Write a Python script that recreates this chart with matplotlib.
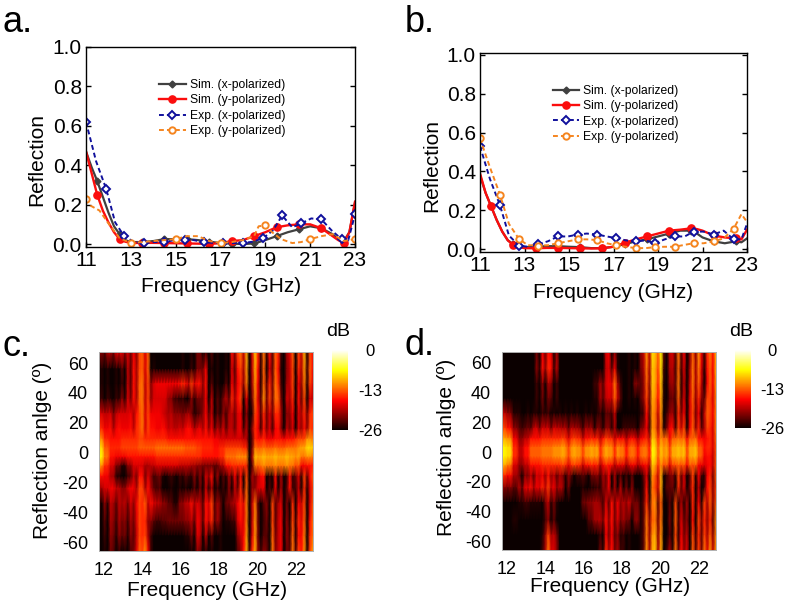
import numpy as np
import matplotlib
matplotlib.use("Agg")
import matplotlib.pyplot as plt

plt.rcParams['font.family'] = ['Liberation Sans', 'DejaVu Sans']
plt.rcParams['axes.unicode_minus'] = False

W, H = 787, 607

# panel a curves
a_sim_f = [11, 11.25, 11.5, 11.75, 12, 12.25, 12.5, 12.75, 13, 13.5, 14, 14.5, 15, 15.5, 16, 16.5, 17, 17.5, 18, 18.5, 19, 19.5, 20, 20.5, 21, 21.5, 22, 22.25, 22.5, 22.75, 23]
a_simx = [.47, .39, .32, .24, .16, .09, .05, .02, .01, .01, .015, .025, .025, .025, .02, .012, .005, .002, 0, .003, .02, .04, .06, .075, .09, .08, .05, .025, .015, .06, .21]
a_simy = [.47, .36, .25, .17, .11, .06, .025, .012, .005, .006, .006, .005, .004, .003, .002, 0, .005, .015, .02, .04, .06, .085, .095, .1, .1, .08, .04, .02, .006, .06, .215]
a_expx_f = [11, 11.45, 11.9, 12.3, 12.7, 13.15, 13.6, 14.05, 14.5, 14.95, 15.4, 15.8, 16.25, 16.7, 17.1, 17.55, 18, 18.45, 18.9, 19.35, 19.75, 20.2, 20.6, 21.05, 21.5, 21.95, 22.4, 22.7, 23]
a_expx = [.62, .42, .28, .11, .04, .01, .005, .01, .01, .02, .02, .02, .01, .005, .005, .005, .005, .012, .03, .07, .145, .085, .105, .13, .125, .07, .025, .02, .15]
a_expy_f = [11, 11.2, 11.6, 12, 12.5, 13, 13.5, 14, 14.5, 15, 15.5, 16, 16.5, 17, 17.5, 18, 18.5, 18.7, 19, 19.3, 19.7, 20.2, 20.6, 21, 21.5, 22, 22.5, 23]
a_expy = [.23, .195, .17, .105, .03, .005, .01, .015, .02, .025, .04, .04, .015, .005, .01, .02, .04, .09, .095, .06, .025, .005, .01, .025, .04, .05, .015, .025]
a_expy_marks = [11, 13, 15, 17, 19, 21, 23]

# panel b curves
b_sim_f = [11, 11.25, 11.5, 11.75, 12, 12.25, 12.5, 12.75, 13, 13.5, 14, 14.5, 15, 15.5, 16, 16.5, 17, 17.5, 18, 18.5, 19, 19.5, 20, 20.5, 20.75, 21, 21.5, 22, 22.5, 22.75, 23]
b_simx = [.38, .29, .22, .15, .09, .045, .025, .012, .01, .012, .015, .015, .012, .01, .005, .005, .012, .025, .04, .05, .065, .08, .095, .095, .08, .06, .04, .03, .04, .035, .055]
b_simy = [.39, .29, .22, .15, .09, .045, .02, .01, .005, .004, .006, .006, .005, .004, .003, .004, .012, .032, .05, .065, .08, .095, .1, .107, .103, .095, .07, .06, .055, .05, .1]
b_exp_f = [11, 11.45, 11.9, 12.3, 12.75, 13.15, 13.6, 14.05, 14.5, 14.95, 15.4, 15.8, 16.25, 16.7, 17.1, 17.55, 18, 18.45, 18.85, 19.3, 19.75, 20.2, 20.6, 21.05, 21.5, 21.95, 22.4, 22.75, 23]
b_expx = [.53, .36, .225, .07, .018, .012, .025, .04, .065, .065, .075, .08, .075, .065, .057, .045, .04, .045, .03, .05, .065, .065, .09, .09, .075, .095, .05, .05, .13]
b_expy = [.57, .42, .28, .13, .052, .02, .018, .02, .03, .04, .05, .05, .047, .03, .02, .012, .005, .005, .01, .012, .012, .022, .03, .03, .04, .055, .105, .18, .14]

sim_marks = [11.5, 12.5, 13.5, 14.5, 15.5, 16.5, 17.5, 18.5, 19.5, 20.5, 21.5, 22.5]
a_expx_marks = [11, 11.9, 12.7, 13.6, 14.5, 15.4, 16.25, 17.1, 18, 18.9, 19.75, 20.6, 21.5, 22.4, 23]
b_exp_marks = [11, 11.9, 12.75, 13.6, 14.5, 15.4, 16.25, 17.1, 18, 18.85, 19.75, 20.6, 21.5, 22.4]

# heat maps: dB at each angle (rows) and frequency (columns)
map_ang = [67.4, 56, 46, 36, 26, 16, 9, 3, -3, -9, -16, -24, -34, -46, -56, -66]
map_c = [
    [-22, -20, -19, -18, -18, -19, -18, -15, -15, -26, -26, -26, -26, -26, -26, -26, -26, -22, -26, -24, -26, -26, -26, -18, -15, -13, -20, -12, -15, -18, -14, -18, -22, -15, -17, -13, -16, -13],
    [-26, -26, -26, -26, -24, -20, -17, -15, -15, -25, -26, -26, -26, -26, -26, -26, -25, -22, -19, -26, -26, -26, -26, -20, -17, -14, -21, -13, -16, -20, -14, -19, -23, -16, -18, -14, -15, -14],
    [-26, -26, -26, -26, -25, -20, -17, -14, -16, -18, -17, -17, -17, -17, -16, -16, -15, -16, -18, -24, -26, -26, -24, -19, -18, -15, -22, -14, -16, -17, -13, -18, -22, -16, -20, -15, -16, -15],
    [-25, -25, -25, -25, -22, -19, -17, -14, -16, -18, -18, -18, -21, -24, -25, -26, -22, -22, -19, -20, -24, -22, -20, -17, -17, -20, -24, -15, -14, -16, -13, -16, -20, -17, -19, -17, -20, -16],
    [-18, -19, -19, -19, -18, -18, -17, -14, -15, -17, -17, -19, -20, -21, -22, -21, -22, -24, -18, -20, -24, -22, -21, -19, -19, -23, -26, -16, -17, -19, -16, -17, -22, -18, -20, -17, -16, -14],
    [-15, -17, -17, -17, -17, -17, -16, -14, -15, -16, -17, -17, -19, -19, -19, -17, -17, -18, -17, -18, -20, -19, -20, -19, -19, -21, -22, -17, -18, -19, -18, -18, -20, -19, -20, -18, -15, -15],
    [-11, -15, -16, -16, -15, -15, -15, -14, -15, -15, -15, -15, -16, -16, -16, -16, -16, -16, -16, -16, -17, -18, -18, -18, -18, -19, -20, -16, -16, -17, -17, -16, -17, -16, -15, -14, -11, -12],
    [-8, -13, -15, -15, -14, -14, -14, -13, -13, -13, -12, -12, -12, -12, -12, -13, -13, -14, -15, -15, -16, -15, -14, -14, -14, -15, -19, -13, -13, -13, -13, -13, -13, -12, -12, -10, -8, -9],
    [-7, -12, -16, -17, -17, -16, -16, -16, -16, -16, -15, -15, -15, -15, -15, -15, -15, -15, -16, -16, -16, -15, -12, -12, -11, -11, -17, -10, -10, -10, -10, -10, -10, -10, -11, -12, -11, -12],
    [-11, -15, -18, -22, -25, -21, -18, -18, -20, -19, -18, -18, -18, -18, -19, -19, -20, -21, -22, -22, -23, -20, -16, -15, -15, -15, -20, -13, -12, -12, -12, -12, -12, -12, -14, -17, -16, -15],
    [-16, -17, -20, -25, -26, -24, -19, -17, -19, -21, -23, -25, -25, -25, -25, -24, -22, -22, -19, -18, -22, -24, -22, -18, -18, -17, -22, -16, -19, -25, -18, -22, -25, -18, -20, -16, -17, -15],
    [-20, -18, -17, -19, -21, -18, -17, -15, -17, -20, -24, -26, -26, -26, -26, -26, -24, -23, -20, -22, -26, -25, -23, -20, -17, -16, -23, -15, -20, -24, -19, -22, -24, -18, -21, -17, -19, -16],
    [-24, -22, -20, -20, -20, -19, -18, -16, -16, -18, -19, -21, -23, -25, -21, -19, -17, -19, -17, -15, -20, -23, -22, -20, -18, -15, -22, -14, -20, -23, -17, -21, -24, -17, -20, -16, -20, -16],
    [-26, -24, -21, -21, -22, -21, -19, -16, -18, -23, -24, -23, -22, -22, -22, -21, -20, -18, -17, -16, -20, -24, -25, -24, -19, -15, -22, -13, -21, -24, -17, -20, -23, -16, -18, -15, -18, -15],
    [-26, -25, -22, -22, -23, -22, -20, -16, -17, -26, -26, -26, -26, -26, -26, -25, -23, -19, -20, -24, -26, -26, -26, -26, -22, -14, -21, -13, -20, -25, -16, -20, -23, -15, -19, -14, -17, -15],
    [-26, -26, -23, -25, -26, -24, -19, -15, -14, -26, -26, -26, -26, -26, -26, -26, -26, -22, -25, -26, -26, -26, -26, -26, -24, -13, -18, -12, -18, -24, -15, -20, -24, -14, -17, -13, -16, -13],
]
map_d = [
    [-26, -26, -26, -26, -26, -26, -23, -19, -18, -22, -26, -26, -26, -26, -26, -26, -26, -26, -19, -24, -26, -26, -26, -26, -22, -13, -11, -10, -17, -20, -14, -20, -22, -15, -14, -18, -13, -12],
    [-26, -26, -26, -26, -26, -26, -22, -18, -17, -21, -26, -26, -26, -26, -26, -26, -26, -26, -20, -20, -26, -26, -26, -26, -23, -14, -12, -11, -18, -21, -15, -21, -21, -14, -15, -19, -14, -12],
    [-26, -26, -26, -26, -26, -26, -25, -23, -22, -26, -26, -26, -26, -26, -26, -26, -24, -20, -19, -15, -21, -26, -26, -22, -24, -15, -12, -12, -19, -22, -14, -22, -20, -14, -16, -20, -14, -13],
    [-26, -26, -26, -26, -26, -26, -25, -24, -24, -26, -26, -26, -26, -26, -26, -26, -25, -20, -20, -16, -20, -26, -26, -26, -24, -16, -13, -13, -19, -24, -15, -21, -19, -15, -18, -17, -15, -14],
    [-19, -21, -25, -26, -26, -26, -26, -25, -25, -26, -26, -26, -26, -26, -26, -26, -26, -24, -24, -21, -24, -26, -26, -26, -26, -17, -14, -13, -18, -22, -16, -19, -19, -16, -19, -16, -14, -13],
    [-14, -16, -21, -24, -23, -20, -19, -19, -19, -19, -20, -20, -20, -21, -21, -21, -22, -22, -22, -22, -24, -24, -24, -24, -23, -18, -14, -14, -16, -18, -15, -16, -18, -15, -17, -17, -15, -13],
    [-10, -11, -17, -21, -19, -16, -16, -15, -15, -15, -15, -15, -15, -15, -16, -16, -16, -16, -15, -16, -17, -17, -17, -17, -17, -16, -12, -12, -13, -14, -13, -13, -14, -13, -13, -17, -15, -13],
    [-7, -8, -15, -19, -16, -13, -13, -12, -12, -11, -11, -11, -11, -11, -11, -11, -11, -12, -11, -12, -12, -13, -13, -13, -13, -13, -10, -10, -11, -11, -10, -10, -11, -10, -10, -16, -15, -14],
    [-7, -8, -15, -19, -16, -13, -13, -12, -12, -11, -11, -11, -11, -11, -11, -11, -11, -12, -11, -12, -12, -13, -13, -13, -13, -13, -10, -10, -11, -11, -10, -10, -11, -10, -10, -17, -16, -14],
    [-10, -12, -18, -21, -19, -16, -16, -15, -15, -15, -15, -15, -15, -15, -16, -16, -16, -17, -16, -17, -18, -18, -18, -17, -18, -17, -12, -12, -14, -15, -14, -14, -14, -14, -14, -18, -16, -14],
    [-15, -17, -20, -23, -22, -20, -19, -18, -18, -20, -21, -22, -23, -24, -24, -23, -22, -21, -19, -22, -24, -25, -24, -26, -25, -19, -14, -13, -18, -23, -16, -20, -24, -16, -18, -19, -16, -14],
    [-21, -22, -23, -20, -18, -17, -18, -16, -16, -18, -20, -23, -26, -26, -26, -26, -25, -22, -19, -22, -20, -23, -22, -24, -26, -17, -15, -13, -17, -24, -17, -20, -23, -17, -20, -18, -15, -15],
    [-26, -26, -26, -25, -24, -25, -25, -23, -22, -25, -26, -26, -26, -26, -22, -21, -20, -21, -20, -19, -18, -21, -19, -22, -26, -18, -14, -14, -20, -25, -16, -22, -23, -16, -19, -17, -15, -16],
    [-26, -26, -25, -26, -26, -26, -26, -25, -24, -26, -26, -26, -26, -26, -26, -23, -20, -19, -18, -19, -19, -22, -23, -21, -26, -15, -15, -13, -21, -24, -15, -20, -24, -17, -16, -18, -17, -14],
    [-26, -26, -26, -26, -26, -26, -26, -22, -17, -22, -26, -26, -26, -26, -26, -26, -26, -24, -19, -20, -22, -26, -26, -26, -26, -15, -13, -12, -20, -25, -16, -19, -22, -15, -17, -17, -15, -14],
    [-26, -26, -26, -26, -26, -26, -26, -21, -15, -21, -26, -26, -26, -26, -26, -26, -26, -22, -17, -19, -21, -26, -26, -26, -26, -14, -12, -11, -18, -22, -14, -18, -21, -14, -16, -15, -13, -13],
]

# fine vertical streaks added to the maps, -3 dark to +3 bright, 75 columns
streak_rows = [0, 0, 0, 0, 1, 1, 2, 2, 2, 2, 3, 3, 4, 4, 4, 4]
streak_c = [
    [0, 1, -1, 1, 0, -1, 1, 0, 1, -1, 1, -1, 1, -1, 1, 2, -1, 2, -1, 0, 0, 0, 0, 0, 0, 0, 0, 0, 0, 1, 0, -1, 1, -1, 0, 0, -1, 2, -2, 1, -1, 1, -1, 0, 1, -1, 2, -1, 1, 3, -2, 3, -3, 2, 3, -1, -3, 3, -2, 2, -3, 1, 3, -2, -3, 2, -1, 2, -3, 3, -2, 3, -3, 2, -1],
    [0, 0, 0, 0, 1, -1, 0, 1, 0, 0, 0, 1, -1, 1, 0, 2, -1, 1, 0, 0, 0, 0, 1, 0, 0, 1, 0, 0, 1, 0, 0, 1, 0, -1, 0, 1, -1, 1, -1, 1, -1, 1, -1, 1, -1, 1, 0, -1, 1, 2, -1, 2, -2, 1, 2, 0, -2, 2, -1, 1, -2, 1, 2, -1, -2, 1, -1, 1, -2, 2, -1, 2, -2, 1, 0],
    [0, 0, 0, 0, 0, 0, 0, 0, 0, 0, 0, 0, 0, 0, 0, 0, 0, 0, 0, 0, 0, 0, 0, 0, 0, 0, 0, 0, 0, 0, 0, 0, 0, 0, 0, 0, 0, 0, 0, 0, 0, 0, 0, 0, 0, 0, 0, 0, 0, 0, 0, 0, -3, -1, 1, 0, 0, 1, 0, 0, 0, 1, 0, 0, 0, 1, 0, 0, 0, 1, 0, 0, 0, 0, 0],
    [0, 0, 0, 0, 0, 0, 0, 0, 0, 0, 0, 1, 0, -1, 1, 1, -1, 1, 0, -1, 0, 1, 0, -1, 0, 1, 0, -1, 1, 0, 1, 0, -1, 1, -1, 1, -2, 1, -1, 2, -1, 2, -2, 1, -1, 2, -2, 1, -2, 2, -3, 3, -3, 2, -2, -1, 2, 3, -3, 1, -3, 2, -2, 2, -3, 1, 2, -2, -1, 2, -3, 2, -2, 1, 2],
    [0, -1, 1, -1, 1, 0, -1, 1, 0, 1, -1, 1, -1, 1, 2, 1, 3, -1, 2, 0, 0, 0, 0, 0, 0, 0, 0, 0, 0, 0, 0, 0, 1, -1, 1, 0, -2, 1, -1, 1, -1, 0, 1, -1, 0, 0, 0, 0, 1, 3, -1, 3, -2, 3, 2, -3, -2, -1, 2, -2, 3, -2, 1, 3, -3, 2, -3, 2, -2, 3, -1, 2, -3, 2, 3],
]
streak_d = [
    [0, 0, 0, 0, 0, 0, 0, 0, 0, 0, 0, 0, 1, -1, 2, -1, 2, 1, -1, 2, -1, 0, 0, 0, 0, 0, 0, 0, 0, 0, 0, 0, 0, 0, 0, -1, 1, 2, -1, 3, 1, -1, 0, 0, 1, -1, 1, 0, 1, 3, 2, -2, 3, 2, -1, 3, -2, -3, 1, 2, -3, 2, -1, 3, -3, 1, 2, -2, 3, -1, -2, 3, 1, -1, 3],
    [0, 0, 0, 0, 0, 0, 1, 0, 0, 1, -1, 1, 1, -1, 1, 0, 1, -1, 1, 0, 1, 0, 1, -1, 1, 0, 1, 0, -1, 1, 0, 1, -1, 1, 0, -1, 1, 1, -1, 2, -1, -1, 0, 0, 0, 0, 0, -1, 1, 2, 1, -2, 3, 2, -2, 2, -3, -2, 1, 2, -3, 1, -1, 2, -3, 1, 2, -2, 2, -2, -1, 3, 0, -1, 2],
    [0, 0, 0, 0, 0, 0, 0, 0, 0, 0, 0, 0, 0, 0, 0, 0, 0, 0, 0, 0, 0, 1, 0, -1, 0, 1, 0, 0, -1, 0, 0, 1, 0, 1, -1, 0, 1, 0, 1, -1, 1, 0, 1, -1, 0, 1, 0, -1, 0, 1, 1, -1, 3, 2, -1, 1, 0, 1, -1, 1, 0, 1, 0, 1, -1, 1, 0, 1, -1, -1, 0, 1, 0, -1, 1],
    [0, 0, 0, 1, 0, 0, 1, -1, 1, 0, 1, -1, 1, 0, 1, -1, 2, -1, 1, -1, 1, 0, -1, 1, 0, -1, 0, 0, 1, 0, -1, 1, 0, 1, -1, 1, -1, 2, -2, 2, -2, 1, -1, 1, -2, 1, -1, -1, -2, 2, 1, -3, 3, 1, -2, 3, -3, -2, 1, 2, -3, 2, -1, 2, -3, 1, 2, -3, 1, -2, -2, 2, 1, -2, 1],
    [0, 0, 0, 0, 0, 0, 0, 0, 0, 0, 0, 0, 0, 0, -1, 1, 3, -1, 3, 0, 0, 0, 0, 0, 0, 0, 0, 0, 0, 0, 0, 0, 0, 0, 0, -1, 2, -1, 3, -1, 1, -1, 2, 0, 1, -1, 0, 0, 1, 3, 3, -2, 2, 3, -3, 1, -3, -2, 2, -1, 2, -3, 2, -1, 3, -2, 1, -3, 2, -2, 3, -1, 2, -2, 3],
]
STREAK_UP_DB = 1.0
STREAK_DOWN_DB = 3.0

legend_names = ['Sim. (x-polarized)', 'Sim. (y-polarized)', 'Exp. (x-polarized)', 'Exp. (y-polarized)']
GRAY, RED, NAVY, ORANGE = '#404040', '#fb0d0d', '#10109c', '#f5851f'


def px_axes(fig, left, top, right, bottom):
    return fig.add_axes([left / W, 1 - bottom / H, (right - left) / W, (bottom - top) / H])


def set_labels(ax, xtext, xpos, ytext, ypos):
    fig = ax.figure
    ax.set_xlabel(xtext, fontsize=15, va='center')
    ax.set_ylabel(ytext, fontsize=15, va='center')
    ax.xaxis.set_label_coords(xpos[0] / W, 1 - xpos[1] / H, transform=fig.transFigure)
    ax.yaxis.set_label_coords(ypos[0] / W, 1 - ypos[1] / H, transform=fig.transFigure)


def draw_line(ax, f, vals, marks, color, style, marker, ms, lw, open_mark, label):
    f = np.array(f)
    idx = np.where(np.isin(f, marks))[0]
    ax.plot(f, vals, ls=style, color=color, lw=lw, marker=marker, ms=ms, markevery=list(idx),
            mfc='white' if open_mark else color, mec=color, mew=1.4 if open_mark else 1,
            label=label, solid_joinstyle='round')


def style_line_axes(ax, ylim, xpos, ypos):
    ax.set_xlim(11, 23)
    ax.set_ylim(*ylim)
    ax.set_xticks([11, 13, 15, 17, 19, 21, 23])
    ax.set_yticks([0, .2, .4, .6, .8, 1.0])
    ax.tick_params(direction='in', length=3.5, width=1, right=True, labelsize=15, pad=3)
    set_labels(ax, 'Frequency (GHz)', xpos, 'Reflection', ypos)
    for s in ax.spines.values():
        s.set_linewidth(1)
    ax.legend(frameon=False, fontsize=8.7, loc='upper left', bbox_to_anchor=(0.272, 0.84),
              handlelength=2.2, labelspacing=0.28, handletextpad=0.35, borderpad=0, borderaxespad=0)


def draw_map(fig, box, cbox, data, streaks, title_xy, xpos, ypos, cb_pad):
    ax = px_axes(fig, *box)
    # each coarse column covers two streak columns
    base = np.repeat(np.array(data), 2, axis=1)[:, :len(streaks[0])]
    s = np.array(streaks)[streak_rows]
    fine = np.clip(base + np.where(s > 0, STREAK_UP_DB, STREAK_DOWN_DB) * s, -26, 0)
    freq = np.linspace(11.74, 22.9, fine.shape[1])
    mesh = ax.pcolormesh(freq, map_ang, fine, cmap='hot', vmin=-26, vmax=0, shading='gouraud')
    ax.set_xlim(11.74, 22.9)
    ax.set_ylim(-66, 67.4)
    ax.set_xticks([12, 14, 16, 18, 20, 22])
    ax.set_yticks([-60, -40, -20, 0, 20, 40, 60])
    ax.tick_params(length=0, labelsize=13, pad=8)
    set_labels(ax, 'Frequency (GHz)', xpos, 'Reflection anlge (º)', ypos)
    for sp in ax.spines.values():
        sp.set_color('#b0b0b0')
        sp.set_linewidth(0.7)
    cax = px_axes(fig, *cbox)
    cb = fig.colorbar(mesh, cax=cax)
    cb.set_ticks([0, -13, -26])
    cb.ax.tick_params(length=0, labelsize=12, pad=cb_pad)
    for t in cb.ax.get_yticklabels():
        t.set_ha('center')
    cb.outline.set_visible(False)
    fig.text(title_xy[0] / W, 1 - title_xy[1] / H, 'dB', fontsize=14, ha='center', va='center')


fig = plt.figure(figsize=(W / 100, H / 100), dpi=100)

# panel a
ax_a = px_axes(fig, 86, 47, 355, 247)
draw_line(ax_a, a_sim_f, a_simx, sim_marks, GRAY, '-', 'D', 3.5, 1.6, False, legend_names[0])
draw_line(ax_a, a_sim_f, a_simy, sim_marks, RED, '-', 'o', 5.2, 1.7, False, legend_names[1])
draw_line(ax_a, a_expx_f, a_expx, a_expx_marks, NAVY, (0, (2.5, 1.6)), 'D', 3.8, 1.4, True, legend_names[2])
draw_line(ax_a, a_expy_f, a_expy, a_expy_marks, ORANGE, (0, (2.5, 1.6)), 'o', 4.6, 1.4, True, legend_names[3])
style_line_axes(ax_a, (-0.015, 1.0), (221, 287), (37, 160))

# panel b
ax_b = px_axes(fig, 480, 53, 747, 252)
draw_line(ax_b, b_sim_f, b_simx, sim_marks, GRAY, '-', 'D', 3.5, 1.6, False, legend_names[0])
draw_line(ax_b, b_sim_f, b_simy, sim_marks, RED, '-', 'o', 5.2, 1.7, False, legend_names[1])
draw_line(ax_b, b_exp_f, b_expx, b_exp_marks, NAVY, (0, (2.5, 1.6)), 'D', 3.8, 1.4, True, legend_names[2])
draw_line(ax_b, b_exp_f, b_expy, b_exp_marks, ORANGE, (0, (2.5, 1.6)), 'o', 4.6, 1.4, True, legend_names[3])
style_line_axes(ax_b, (-0.015, 1.01), (613, 292), (432, 166))

# panels c and d
draw_map(fig, (99, 352, 313, 551), (332, 350, 348, 430), map_c, streak_c, (338, 332), (207, 590), (43, 450), 16)
draw_map(fig, (502, 352, 716, 550), (735, 350, 751, 428), map_d, streak_d, (741, 331), (610, 587), (447, 447), 15)

# panel letters
for txt, x, y in [('a.', 2, 22), ('b.', 405, 22), ('c.', 2, 347), ('d.', 405, 345)]:
    fig.text(x / W, 1 - y / H, txt, fontsize=26, ha='left', va='center')

fig.savefig('out.png', dpi=100)
